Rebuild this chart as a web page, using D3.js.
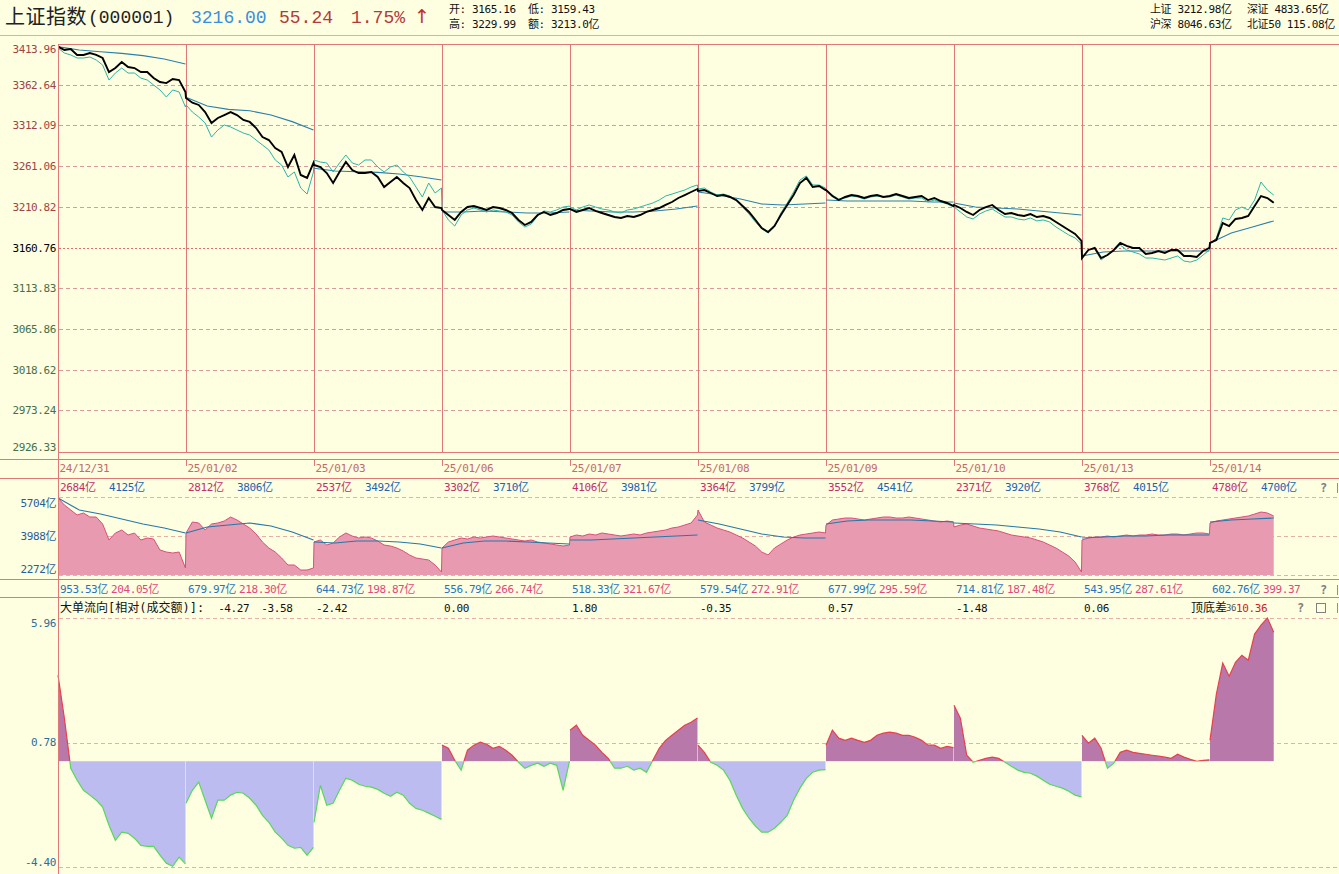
<!DOCTYPE html>
<html><head><meta charset="utf-8">
<script src="https://cdn.jsdelivr.net/npm/d3@7/dist/d3.min.js"></script>
<style>
html,body{margin:0;padding:0;background:#FEFEE1;}
svg{display:block;}
text{font-family:'DejaVu Sans Mono','Noto Sans CJK SC',monospace;font-size:11px;letter-spacing:-0.4px;}
</style></head><body>
<svg id="chart" width="1339" height="874"></svg>
<script>
// ---------------- DATA ----------------
const dayLabels = ["24/12/31","25/01/02","25/01/03","25/01/06","25/01/07","25/01/08","25/01/09","25/01/10","25/01/13","25/01/14"];
const priceTicks = [3413.96,3362.64,3312.09,3261.06,3210.82,3160.76,3113.83,3065.86,3018.62,2973.24,2926.33];
const prevClose = 3160.76;
const volTicks = [5704,3988,2272];
const flowTicks = [5.96,0.78,-4.40];

// index price, one value every 12 minutes
const indexPrice = [
 [3411.8,3407.5,3408.8,3401.1,3401.1,3403.6,3401.1,3397.2,3379.2,3384.3,3392.1,3385.6,3384.3,3379.2,3379.2,3371.5,3366.4,3365.1,3370.2,3369.0,3353.8],
 [3346.1,3340.1,3337.3,3328.4,3314.6,3320.9,3324.6,3328.4,3324.6,3318.4,3315.9,3308.3,3297.0,3293.3,3283.4,3278.4,3259.8,3274.7,3250.0,3246.3,3264.8],
 [3262.3,3259.8,3252.4,3240.1,3253.7,3266.0,3256.1,3252.4,3252.4,3253.7,3247.5,3235.2,3241.3,3247.5,3240.1,3234.0,3219.3,3207.2,3221.7,3210.8,3209.6],
 [3207.2,3201.1,3195.1,3204.8,3210.8,3212.0,3209.6,3207.2,3210.8,3209.6,3207.2,3203.5,3195.1,3189.0,3192.7,3201.1,3204.8,3201.1,3203.5,3207.2,3208.4],
 [3208.4,3204.8,3207.2,3209.6,3206.0,3203.5,3201.1,3198.7,3197.5,3199.9,3198.7,3201.1,3204.8,3207.2,3209.6,3213.3,3216.9,3221.8,3225.4,3229.1,3232.8],
 [3230.3,3231.5,3227.9,3224.2,3225.4,3223.0,3219.3,3212.0,3204.8,3195.1,3185.4,3180.6,3187.8,3201.1,3213.3,3225.4,3240.1,3246.3,3235.2,3236.4,3231.5],
 [3231.5,3224.2,3219.3,3223.0,3225.4,3224.2,3221.8,3224.2,3225.4,3223.0,3224.2,3226.6,3224.2,3221.8,3223.0,3224.2,3219.3,3221.8,3218.1,3215.7,3212.0],
 [3213.3,3209.6,3204.8,3201.1,3207.2,3210.8,3213.3,3207.2,3202.3,3203.5,3201.1,3199.9,3202.3,3198.7,3199.9,3197.5,3192.7,3187.8,3183.0,3178.2,3169.8],
 [3149.4,3159.0,3161.4,3149.4,3153.0,3159.0,3167.4,3163.8,3161.4,3161.4,3154.2,3155.4,3157.8,3155.4,3159.0,3159.0,3151.8,3151.8,3150.6,3157.8,3161.4],
 [3167.4,3171.0,3191.4,3187.8,3196.3,3197.5,3199.9,3212.0,3224.2,3221.8,3216.0]
];
// thin comparison index line, every 12 minutes
const compareIndex = [
 [3410.1,3403.6,3401.1,3397.2,3397.2,3398.5,3394.6,3388.2,3369.0,3377.9,3384.3,3377.9,3377.9,3371.5,3369.0,3362.6,3356.3,3347.4,3356.3,3353.8,3334.7],
 [3337.3,3328.4,3322.1,3314.6,3297.0,3305.8,3312.1,3309.6,3305.8,3302.0,3299.5,3293.3,3287.1,3280.9,3268.5,3262.3,3247.5,3253.7,3234.0,3226.6,3253.7],
 [3268.5,3266.0,3264.8,3253.7,3264.8,3274.7,3264.8,3262.3,3268.5,3268.5,3259.8,3253.7,3259.8,3262.3,3253.7,3247.5,3235.2,3223.0,3240.1,3227.9,3234.0],
 [3207.2,3195.1,3187.8,3201.1,3207.2,3209.6,3207.2,3204.8,3207.2,3206.0,3204.8,3201.1,3192.7,3186.6,3190.2,3199.9,3206.0,3204.8,3207.2,3210.8,3212.0],
 [3210.8,3207.2,3210.8,3213.3,3210.8,3208.4,3207.2,3204.8,3203.5,3207.2,3208.4,3210.8,3213.3,3215.7,3219.3,3224.2,3226.6,3229.1,3231.5,3235.2,3237.7],
 [3232.8,3234.0,3229.1,3225.4,3226.6,3224.2,3219.3,3210.8,3202.3,3192.7,3184.2,3179.4,3186.6,3203.5,3215.7,3229.1,3243.8,3248.8,3237.7,3237.7,3234.0],
 [3231.5,3225.4,3220.5,3221.8,3224.2,3223.0,3220.5,3223.0,3224.2,3223.0,3223.0,3225.4,3223.0,3220.5,3221.8,3221.8,3216.9,3219.3,3216.9,3214.5,3210.8],
 [3210.8,3204.8,3198.7,3196.3,3202.3,3206.0,3208.4,3203.5,3198.7,3198.7,3196.3,3195.1,3197.5,3193.9,3195.1,3192.7,3186.6,3181.8,3177.0,3173.4,3166.2],
 [3149.4,3159.0,3160.2,3147.0,3153.0,3159.0,3165.0,3159.0,3156.6,3154.2,3149.4,3149.4,3148.2,3147.0,3149.4,3151.8,3145.8,3144.6,3147.0,3153.0,3159.0],
 [3166.2,3173.4,3197.5,3195.1,3207.2,3210.8,3207.2,3219.3,3241.4,3231.5,3225.4]
];
// average price line, every 40 minutes
const avgPrice = [
 [3411.8,3407.5,3405.3,3403.2,3400.2,3395.9,3389.5],
 [3347.0,3336.0,3331.8,3330.0,3324.6,3316.3,3305.8],
 [3258.2,3254.8,3254.0,3253.2,3251.2,3247.9,3243.8],
 [3204.8,3204.8,3206.0,3204.8,3203.5,3203.5,3204.8],
 [3207.2,3206.0,3204.8,3204.8,3206.0,3208.4,3212.0],
 [3229.1,3225.4,3220.5,3214.5,3213.3,3214.5,3215.7],
 [3219.3,3218.1,3218.1,3218.1,3218.1,3216.9,3216.9],
 [3215.7,3210.8,3209.6,3208.4,3206.0,3203.5,3201.1],
 [3151.8,3156.6,3157.8,3157.8,3157.8,3157.8,3157.8],
 [3167.4,3179.4,3186.6,3193.9]
];
// turnover (亿), every 12 minutes
const volume = [
 [5660,5352,5132,4912,5000,4824,4824,4516,3812,4120,4252,4032,4120,3812,3900,3856,3372,3284,3240,3284,2580],
 [4120,4604,4560,4252,4516,4560,4648,4824,4692,4516,4340,4076,3724,3460,3284,3020,2712,2712,2492,2492,2580],
 [3724,3812,3592,3680,3944,4120,3988,3900,3944,3900,3768,3592,3548,3460,3328,3152,3020,2976,2932,2712,2404],
 [3460,3724,3812,3900,3856,3944,3900,3944,3988,3944,3900,3856,3812,3768,3812,3724,3680,3636,3592,3548,3592],
 [3944,4032,3988,4076,4032,4120,4076,4032,3988,4032,4076,4032,4120,4164,4208,4252,4340,4384,4472,4560,4912],
 [5132,4604,4472,4340,4252,4164,4032,3900,3724,3548,3284,3152,3460,3636,3812,3944,4032,4076,4120,4164,4120],
 [4472,4692,4736,4780,4780,4736,4692,4736,4780,4824,4824,4780,4780,4824,4780,4736,4692,4648,4604,4648,4604],
 [4384,4472,4516,4428,4340,4296,4252,4208,4120,4032,3988,3944,3900,3812,3724,3592,3460,3284,3108,2844,2404],
 [3812,3900,3944,3944,3988,3944,3988,4032,3988,4032,4032,4076,4032,4032,4076,4076,4032,4076,4120,4120,4076],
 [4560,4648,4692,4736,4780,4824,4868,4956,5044,5000,4868]
];
// turnover average, every 40 minutes
const volumeAvg = [
 [5660,5132,4956,4736,4516,4340,4120],
 [4120,4384,4472,4560,4428,4164,3812],
 [3724,3680,3768,3768,3724,3636,3460],
 [3460,3680,3768,3768,3724,3680,3636],
 [3812,3812,3856,3900,3944,3988,4032],
 [4692,4516,4296,4076,3944,3900,3900],
 [4516,4648,4692,4692,4692,4648,4604],
 [4560,4516,4472,4384,4296,4164,3944],
 [3900,3944,3988,3988,4032,4032,4032],
 [4604,4692,4736,4780]
];
// 大单流向, every 12 minutes
const bigFlow = [
 [3.58,1.79,-0.29,-0.79,-1.21,-1.41,-1.62,-1.91,-2.66,-3.29,-2.95,-3.00,-3.20,-3.50,-3.54,-3.54,-3.91,-4.24,-4.37,-3.99,-4.27],
 [-1.75,-1.21,-0.87,-1.62,-2.37,-1.62,-1.62,-1.41,-1.29,-1.33,-1.54,-1.83,-2.25,-2.54,-2.95,-3.20,-3.50,-3.62,-3.58,-3.91,-3.58],
 [-2.54,-1.00,-1.83,-1.75,-1.21,-0.71,-0.79,-0.96,-1.04,-1.08,-1.17,-1.33,-1.46,-1.29,-1.41,-1.75,-1.96,-2.04,-2.16,-2.29,-2.42],
 [0.67,0.54,0.04,-0.37,0.46,0.67,0.79,0.71,0.54,0.62,0.46,0.25,-0.04,-0.29,-0.17,-0.08,-0.21,-0.08,-0.17,-1.21,0.00],
 [1.29,1.50,1.08,0.87,0.67,0.37,0.12,-0.29,-0.29,-0.21,-0.37,-0.29,-0.46,0.04,0.54,0.87,1.08,1.29,1.50,1.62,1.80],
 [0.67,0.37,-0.04,-0.17,-0.37,-0.79,-1.41,-1.96,-2.37,-2.70,-2.95,-2.95,-2.79,-2.54,-2.25,-1.62,-1.12,-0.71,-0.46,-0.37,-0.35],
 [0.67,1.29,0.96,0.87,0.96,0.87,0.79,0.87,1.08,1.17,1.21,1.17,1.08,1.08,1.00,0.87,0.67,0.67,0.54,0.62,0.57],
 [2.33,1.79,0.25,-0.04,0.04,0.12,0.17,0.12,-0.04,-0.21,-0.37,-0.46,-0.50,-0.62,-0.79,-0.96,-1.04,-1.12,-1.25,-1.41,-1.48],
 [1.08,0.75,0.96,0.54,-0.29,-0.08,0.37,0.46,0.37,0.33,0.29,0.25,0.21,0.17,0.12,0.29,0.17,0.08,0.00,0.04,0.06],
 [0.87,2.79,4.08,3.54,4.12,4.41,4.20,5.29,5.66,5.96,5.37]
];
const volTopLabels = [["2684","4125"],["2812","3806"],["2537","3492"],["3302","3710"],["4106","3981"],["3364","3799"],["3552","4541"],["2371","3920"],["3768","4015"],["4780","4700"]];
const volBottomLabels = [["953.53亿","204.05亿"],["679.97亿","218.30亿"],["644.73亿","198.87亿"],["556.79亿","266.74亿"],["518.33亿","321.67亿"],["579.54亿","272.91亿"],["677.99亿","295.59亿"],["714.81亿","187.48亿"],["543.95亿","287.61亿"],["602.76亿","399.37"]];
const flowDayLabels = ["-4.27","-3.58","-2.42","0.00","1.80","-0.35","0.57","-1.48","0.06"];
const flowRange = "10.36";
const headerQuote = {name:"上证指数", code:"(000001)", last:"3216.00", chg:"55.24", pct:"1.75%"};
const headerStats = [["开: 3165.16","低: 3159.43"],["高: 3229.99","额: 3213.0亿"]];
const headerMarket = [["上证 3212.98亿","深证 4833.65亿"],["沪深 8046.63亿","北证50 115.08亿"]];

// ---------------- DRAW ----------------
const W=1339,H=874;
const BG="#FEFEE1", LINE="#E07878", DASH="#D89A9A";
const svg=d3.select("#chart");
svg.append("rect").attr("width",W).attr("height",H).attr("fill",BG);

const x=d3.scaleLinear().domain([0,10]).range([58,1338]);
const tx=(d,i,step)=>x(d+i*step/241);
const yP=d3.scaleLog().domain([2926.33,3413.96]).range([452,45]);
const yV=d3.scaleLinear().domain([2272,5704]).range([575,497]);
const yF=d3.scaleLinear().domain([-4.40,5.96]).range([867,618]);
const clamp=(v,a,b)=>Math.max(a,Math.min(b,v));
const flat=(arr,step)=>{const o=[];arr.forEach((day,d)=>day.forEach((v,i)=>o.push([tx(d,i,step),v])));return o;};

function hline(y,x1,x2,color,dash,w){svg.append("line").attr("x1",x1).attr("x2",x2).attr("y1",y).attr("y2",y).attr("stroke",color).attr("stroke-width",w||1).attr("stroke-dasharray",dash||null);}
function vline(xx,y1,y2,color,w){svg.append("line").attr("x1",xx).attr("x2",xx).attr("y1",y1).attr("y2",y2).attr("stroke",color).attr("stroke-width",w||1);}
function txt(s,xx,yy,color,opts){const t=svg.append("text").attr("x",xx).attr("y",yy).attr("fill",color).attr("dy","0.35em").text(s);if(opts){for(const k in opts)t.style(k,opts[k]);}return t;}

// frame lines
hline(35.5,0,W,"#E8A8A8");
hline(44.5,58,W,LINE);
hline(452.5,58,W,LINE);
hline(459.5,0,W,LINE);
hline(478.5,0,W,LINE);
hline(579.5,0,W,LINE);
hline(597.5,0,W,LINE);

// main panel grid
priceTicks.forEach((t,i)=>{
  if(i>0 && i<priceTicks.length-1 && t!==prevClose) hline(Math.round(yP(t))+0.5,59,W,DASH,"4,3");
});
for(let d=1;d<10;d++) vline(Math.round(x(d))+0.5,45,452,LINE);
hline(Math.round(yP(prevClose))+0.5,59,W,"#E07070",2);

// main labels
priceTicks.forEach(t=>{
  const c=t>prevClose?"#A04545":(t<prevClose?"#487048":"#000");
  txt(t.toFixed(2),56,clamp(yP(t),49,447),c).attr("text-anchor","end");
});

// main lines
svg.append("clipPath").attr("id","cm").append("rect").attr("x",59).attr("y",45).attr("width",W-59).attr("height",407);
const gMain=svg.append("g").attr("clip-path","url(#cm)");
const lineP=d3.line().x(d=>d[0]).y(d=>yP(d[1]));
avgPrice.forEach((day,d)=>{
  gMain.append("path").attr("d",lineP(day.map((v,i)=>[tx(d,i,40),v]))).attr("fill","none").attr("stroke","#2A7FA8").attr("stroke-width",1.1);
});
gMain.append("path").attr("d",lineP(flat(compareIndex,12))).attr("fill","none").attr("stroke","#2CB4AA").attr("stroke-width",1);
gMain.append("path").attr("d",lineP(flat(indexPrice,12))).attr("fill","none").attr("stroke","#000").attr("stroke-width",1.9);

// date row
dayLabels.forEach((s,d)=>{
  const xx=Math.round(x(d))+0.5;
  vline(xx,460,466,LINE);
  txt(s,xx+1,468,"#C46A6A");
});

// volume panel
volTicks.forEach(t=>hline(Math.round(yV(t))+0.5,59,W,"#E4B0A8","4,3"));
volTicks.forEach(t=>txt(t+"亿",56,clamp(yV(t),503,569),"#2A5C9A").attr("text-anchor","end"));
const areaV=d3.area().x(d=>d[0]).y0(yV(2272)).y1(d=>yV(d[1]));
const lineV=d3.line().x(d=>d[0]).y(d=>yV(d[1]));
const vflat=flat(volume,12);
svg.append("path").attr("d",areaV(vflat)).attr("fill","#E89AB0");
svg.append("path").attr("d",lineV(vflat)).attr("fill","none").attr("stroke","#D8507E").attr("stroke-width",1);
volumeAvg.forEach((day,d)=>{
  svg.append("path").attr("d",lineV(day.map((v,i)=>[tx(d,i,40),v]))).attr("fill","none").attr("stroke","#2478A8").attr("stroke-width",1.1);
});
volTopLabels.forEach((p,d)=>{
  const xx=x(d);
  txt(p[0]+"亿",xx+2,487,"#C0306A");
  txt(p[1]+"亿",xx+51,487,"#2064B0");
});
volBottomLabels.forEach((p,d)=>{
  const xx=x(d);
  txt(p[0],xx+2,589,"#2874C0");
  txt(p[1],xx+53,589,"#E0487E");
});

// flow panel
flowTicks.forEach(t=>hline(Math.round(yF(t))+0.5,59,W,"#E4B0A8","4,3"));
flowTicks.forEach(t=>txt(t.toFixed(2),56,clamp(yF(t),623,862),"#2A6E9A").attr("text-anchor","end"));
const y0=yF(0);
svg.append("clipPath").attr("id","cpos").append("rect").attr("x",0).attr("y",600).attr("width",W).attr("height",y0-600);
svg.append("clipPath").attr("id","cneg").append("rect").attr("x",0).attr("y",y0).attr("width",W).attr("height",H-y0);
const areaF=d3.area().x(d=>d[0]).y0(y0).y1(d=>yF(d[1]));
const lineF=d3.line().x(d=>d[0]).y(d=>yF(d[1]));
const gPos=svg.append("g").attr("clip-path","url(#cpos)");
const gNeg=svg.append("g").attr("clip-path","url(#cneg)");
bigFlow.forEach((day,d)=>{
  const pts=day.map((v,i)=>[tx(d,i,12),v]);
  gPos.append("path").attr("d",areaF(pts)).attr("fill","#B878AA");
  gNeg.append("path").attr("d",areaF(pts)).attr("fill","#BCBCF0");
  gPos.append("path").attr("d",lineF(pts)).attr("fill","none").attr("stroke","#E8404C").attr("stroke-width",1.2);
  gNeg.append("path").attr("d",lineF(pts)).attr("fill","none").attr("stroke","#58D858").attr("stroke-width",1.2);
});

// flow title row
const title=txt("大单流向[相对(成交额)]:",60,608,"#111",{"font-size":"12px","letter-spacing":"0px"});
let cursor=60+title.node().getComputedTextLength()+14;
flowDayLabels.forEach((s,d)=>{
  const xx=Math.max(x(d)+2,cursor);
  const t=txt(s,xx,608,"#111");
  cursor=xx+t.node().getComputedTextLength()+12;
});
txt("顶底差",1191,608,"#111",{"letter-spacing":"0px","font-size":"12px"});
txt("36",1226,608,"#555",{"font-size":"9px"});
txt(flowRange,1236,608,"#D02020");

// small icons
[[1320,488],[1320,590],[1297,608]].forEach(p=>txt("?",p[0],p[1],"#808080",{"font-weight":"bold","font-size":"12px"}));
svg.append("rect").attr("x",1316.5).attr("y",603.5).attr("width",9).attr("height",9).attr("fill","none").attr("stroke","#808080");
[488,590,608].forEach(yy=>vline(1337.5,yy-5,yy+5,"#909090"));

// vertical axis line
vline(58.5,44,H,LINE);

// header
txt(headerQuote.name,5,17,"#222",{"font-family":"'Noto Sans CJK SC'","font-size":"20px","letter-spacing":"0.5px"});
txt(headerQuote.code,88,17,"#222",{"font-family":"'Liberation Mono'","font-size":"18px","letter-spacing":"0px"});
txt(headerQuote.last,191,17,"#3A8EE0",{"font-family":"'Liberation Mono'","font-size":"18px","letter-spacing":"0px"});
txt(headerQuote.chg,279,17,"#B33A3A",{"font-family":"'Liberation Mono'","font-size":"18px","letter-spacing":"0px"});
txt(headerQuote.pct,351,17,"#B33A3A",{"font-family":"'Liberation Mono'","font-size":"18px","letter-spacing":"0px"});
txt("↑",414,16,"#C03030",{"font-family":"'DejaVu Sans'","font-size":"19px","letter-spacing":"0px"});
headerStats.forEach((r,j)=>{txt(r[0],449,9+j*15,"#111");txt(r[1],528,9+j*15,"#111");});
headerMarket.forEach((r,j)=>{txt(r[0],1150,9+j*15,"#111");txt(r[1],1247,9+j*15,"#111");});
</script></body></html>
